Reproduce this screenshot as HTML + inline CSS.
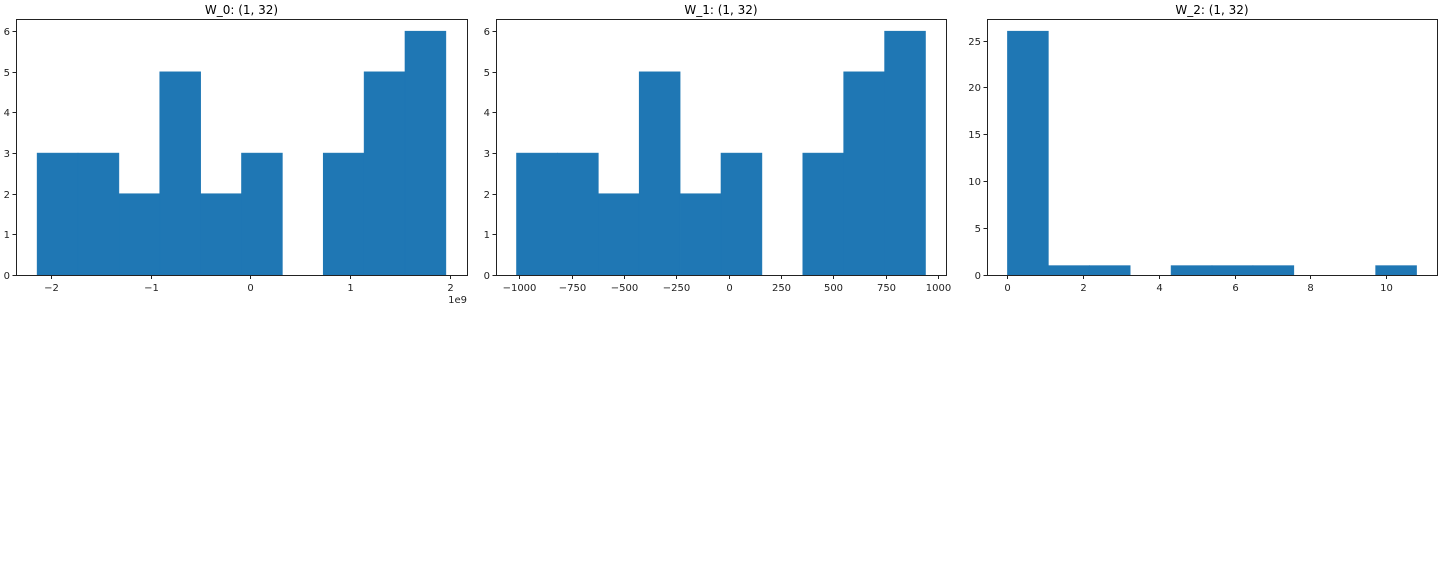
<!DOCTYPE html>
<html><head><meta charset="utf-8"><style>
body{margin:0;background:#fff;}
svg{display:block;font-family:"DejaVu Sans","Liberation Sans",sans-serif;}
</style></head><body>
<svg id="fig" width="1440" height="576" xmlns="http://www.w3.org/2000/svg"></svg>
<script>
const titles = ["W_0: (1, 32)", "W_1: (1, 32)", "W_2: (1, 32)"];
const counts0 = [3,3,2,5,2,3,0,3,5,6];
const edges0 = [-2.14,-1.73,-1.32,-0.91,-0.50,-0.09,0.32,0.73,1.14,1.55,1.96];
const counts1 = [3,3,2,5,2,3,0,3,5,6];
const edges1 = [-1014,-818.6,-623.2,-427.8,-232.4,-37,158.4,353.8,549.2,744.6,940];
const counts2 = [26,1,1,0,1,1,1,0,0,1];
const edges2 = [0,1.08,2.16,3.24,4.32,5.40,6.48,7.56,8.64,9.72,10.80];
const xticks0 = [-2,-1,0,1,2];
const xtickLabels0 = ["\u22122","\u22121","0","1","2"];
const xticks1 = [-1000,-750,-500,-250,0,250,500,750,1000];
const xtickLabels1 = ["\u22121000","\u2212750","\u2212500","\u2212250","0","250","500","750","1000"];
const xticks2 = [0,2,4,6,8,10];
const yticks01 = [0,1,2,3,4,5,6];
const yticks2 = [0,5,10,15,20,25];

const svg = document.getElementById('fig');
const NS = 'http://www.w3.org/2000/svg';
function mk(tag, attrs, parent){const e=document.createElementNS(NS,tag);for(const k in attrs)e.setAttribute(k,attrs[k]);(parent||svg).appendChild(e);return e;}

const panels = [
 {x0:16,x1:467,xmin:-2.352,xmax:2.172,ymax:6.3,counts:counts0,edges:edges0,xt:xticks0,xl:xtickLabels0,yt:yticks01,off:true},
 {x0:496,x1:946,xmin:-1112,xmax:1038,ymax:6.3,counts:counts1,edges:edges1,xt:xticks1,xl:xtickLabels1,yt:yticks01},
 {x0:987,x1:1437,xmin:-0.54,xmax:11.34,ymax:27.3,counts:counts2,edges:edges2,xt:xticks2,xl:xticks2.map(String),yt:yticks2}
];
const yTop=19, yBot=275;
panels.forEach((p,i)=>{
  const g=mk('g',{});
  
  
  const sx=v=>p.x0+(v-p.xmin)/(p.xmax-p.xmin)*(p.x1-p.x0);
  const sy=v=>yBot-v/p.ymax*(yBot-yTop);
  p.counts.forEach((c,j)=>{
    if(c<=0) return;
    const r=mk('rect',{x:sx(p.edges[j]),y:sy(c),width:sx(p.edges[j+1])-sx(p.edges[j]),height:yBot-sy(c),fill:'#1f77b4',stroke:'#1f77b4','stroke-width':0.6},g);
    
    
  });
  const frame=mk('rect',{x:p.x0+0.5,y:yTop+0.5,width:p.x1-p.x0,height:yBot-yTop,fill:'none',stroke:'#222','stroke-width':1},g);
  
  
  p.xt.forEach((t,k)=>{
    const x=Math.round(sx(t))+0.5;
    mk('line',{x1:x,x2:x,y1:yBot+0.5,y2:yBot+4,stroke:'#222'},g);
    const tx=mk('text',{x:x,y:yBot+16,'font-size':10,'text-anchor':'middle',fill:'#222'},g);
    tx.textContent=p.xl[k];
    
    
  });
  p.yt.forEach(t=>{
    const y=Math.round(sy(t))+0.5;
    mk('line',{x1:p.x0-3.5,x2:p.x0+0.5,y1:y,y2:y,stroke:'#222'},g);
    const tx=mk('text',{x:p.x0-6,y:y+3.5,'font-size':10,'text-anchor':'end',fill:'#222'},g);
    tx.textContent=String(t);
    
    
  });
  const ti=mk('text',{x:(p.x0+p.x1)/2,y:14,'font-size':12,'text-anchor':'middle',fill:'#000'},g);
  ti.textContent=titles[i];
  
  
  if(p.off){
    const o=mk('text',{x:p.x1,y:303,'font-size':10,'text-anchor':'end',fill:'#222'},g);
    o.textContent='1e9';
    
    
  }
});
</script>
</body></html>
